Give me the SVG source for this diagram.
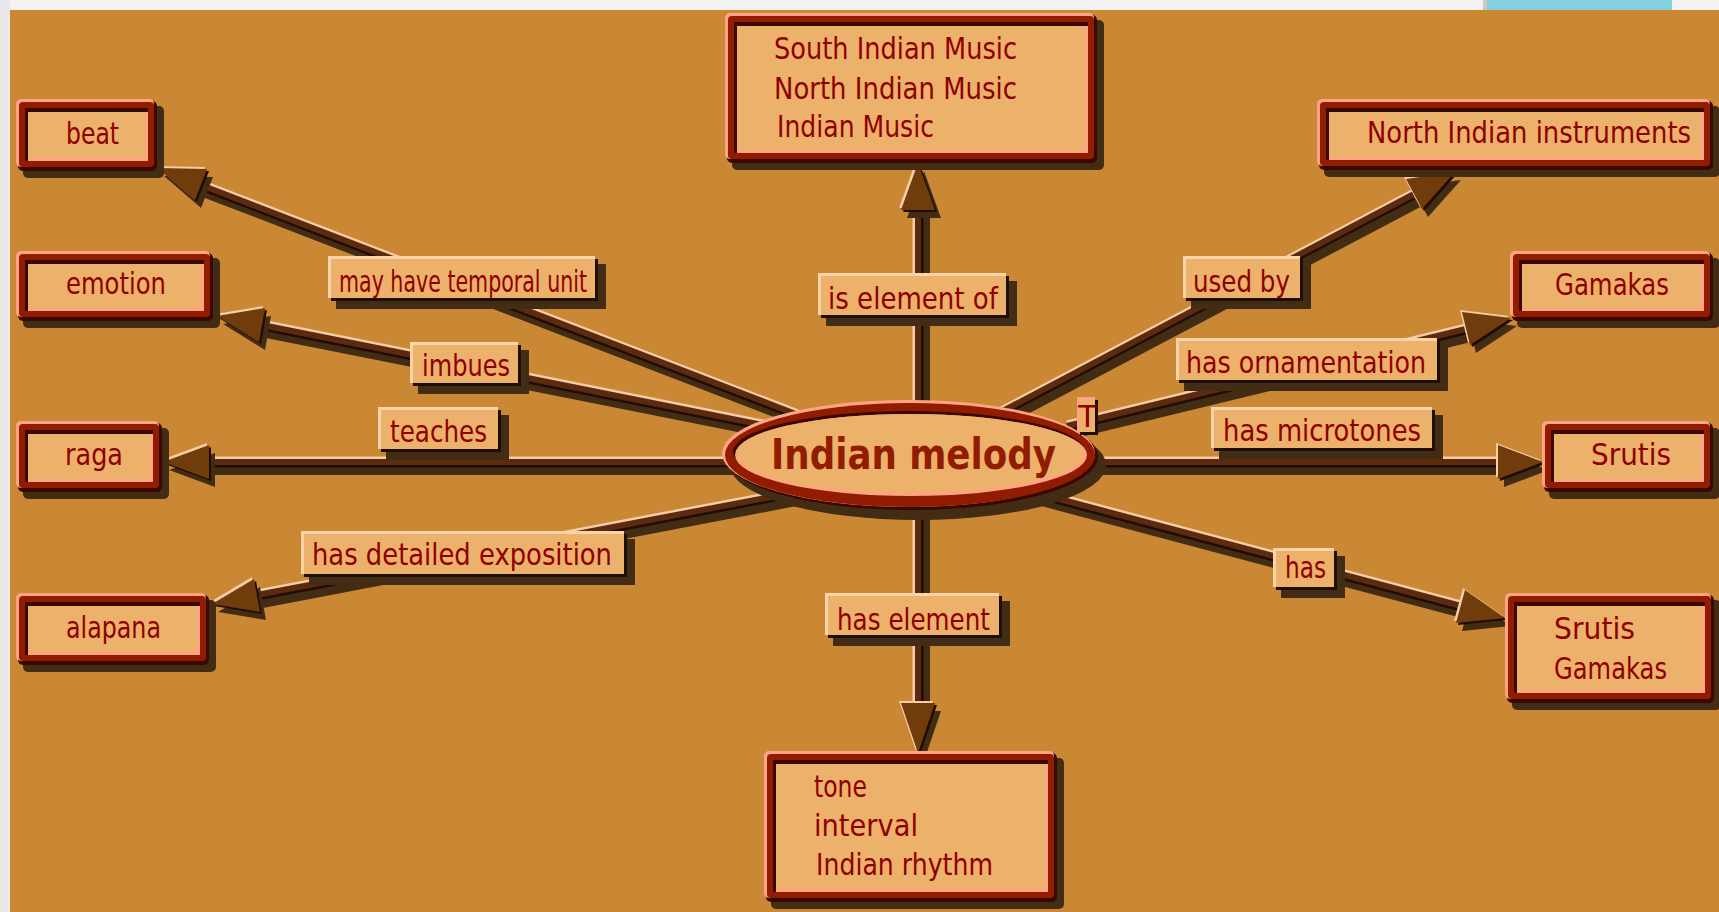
<svg xmlns="http://www.w3.org/2000/svg" xmlns:xlink="http://www.w3.org/1999/xlink" width="1719" height="912" viewBox="0 0 1719 912">
  <style>
    .txt { font-family: "DejaVu Sans", "Liberation Sans", sans-serif; font-size: 30px; fill: #8f0000; }
    .main { font-family: "DejaVu Sans", "Liberation Sans", sans-serif; font-size: 42px; font-weight: bold; fill: #911c00; }
    .sh { fill: #432c14; }
    .dk { fill: #3a0800; }
    .pk { fill: #ffa385; }
    .rd { fill: #911c00; }
    .fl { fill: #ecb16a; }
    .ldk { fill: #1e0e04; }
    .llt { fill: #fad3a8; }
    .ln-sh { fill: none; stroke: #432c14; stroke-width: 10; }
    .ln-hi { fill: none; stroke: #f6cda6; stroke-width: 5; }
    .ln-dk { fill: none; stroke: #200c04; stroke-width: 5; }
    .ln { fill: none; stroke: #5c2a0f; stroke-width: 6; }
    .ah { fill: #713c0b; }
    .ah-sh { fill: #432c14; }
    .ah-lt { fill: #f6cda6; }
    .ah-dk { fill: #200c04; }
  </style>
  <defs>
    <!-- connector paths: from the central ellipse to the arrow base -->
    <path id="p-beat" d="M819 423 L201 185"/>
    <path id="p-emotion" d="M778 428 L262 325"/>
    <path id="p-raga" d="M750 462 L208 462"/>
    <path id="p-alapana" d="M807 490 L257 595"/>
    <path id="p-music" d="M918 430 L918 210"/>
    <path id="p-instr" d="M982 422 L1414 194"/>
    <path id="p-gamakas" d="M1067 426 L1466 329"/>
    <path id="p-srutis" d="M1070 462 L1498 462"/>
    <path id="p-sg" d="M1018 488 L1461 606"/>
    <path id="p-tone" d="M918 480 L918 703"/>
    <!-- arrowheads -->
    <polygon id="a-beat" points="158,168 207,169 195,200"/>
    <polygon id="a-emotion" points="217,316 265,308 259,342"/>
    <polygon id="a-raga" points="163,462 209,445 209,479"/>
    <polygon id="a-alapana" points="212,604 254,579 260,612"/>
    <polygon id="a-music" points="918,163 901,210 935,210"/>
    <polygon id="a-instr" points="1455,172 1406,179 1422,209"/>
    <polygon id="a-gamakas" points="1511,318 1462,312 1470,345"/>
    <polygon id="a-srutis" points="1543,462 1498,445 1498,479"/>
    <polygon id="a-sg" points="1505,618 1465,590 1456,623"/>
    <polygon id="a-tone" points="918,753 901,703 935,703"/>
  </defs>

  <!-- window backdrop -->
  <rect x="0" y="0" width="1719" height="912" fill="#e9e9e9"/>
  <rect x="10" y="0" width="1709" height="10" fill="#f2f2f2"/>
  <rect x="1483" y="0" width="4" height="10" fill="#c8c8c8"/>
  <rect x="1487" y="0" width="185" height="10" fill="#84d0de"/>
  <rect x="10" y="10" width="1709" height="902" fill="#cb8834"/>

  <!-- connectors -->
  <g id="connectors">
    <g id="line-shadows">
      <use href="#p-beat" class="ln-sh" transform="translate(5,8)"/>
      <use href="#p-emotion" class="ln-sh" transform="translate(5,8)"/>
      <use href="#p-raga" class="ln-sh" transform="translate(5,8)"/>
      <use href="#p-alapana" class="ln-sh" transform="translate(5,8)"/>
      <use href="#p-music" class="ln-sh" transform="translate(7,4)"/>
      <use href="#p-instr" class="ln-sh" transform="translate(5,8)"/>
      <use href="#p-gamakas" class="ln-sh" transform="translate(5,8)"/>
      <use href="#p-srutis" class="ln-sh" transform="translate(5,8)"/>
      <use href="#p-sg" class="ln-sh" transform="translate(5,8)"/>
      <use href="#p-tone" class="ln-sh" transform="translate(7,4)"/>
    </g>
    <g id="line-edges">
      <use href="#p-beat" class="ln-hi" transform="translate(0,-3)"/>
      <use href="#p-emotion" class="ln-hi" transform="translate(0,-3)"/>
      <use href="#p-raga" class="ln-hi" transform="translate(0,-3)"/>
      <use href="#p-alapana" class="ln-hi" transform="translate(0,-3)"/>
      <use href="#p-music" class="ln-hi" transform="translate(-3,0)"/>
      <use href="#p-instr" class="ln-hi" transform="translate(0,-3)"/>
      <use href="#p-gamakas" class="ln-hi" transform="translate(0,-3)"/>
      <use href="#p-srutis" class="ln-hi" transform="translate(0,-3)"/>
      <use href="#p-sg" class="ln-hi" transform="translate(0,-3)"/>
      <use href="#p-tone" class="ln-hi" transform="translate(-3,0)"/>
      <use href="#p-beat" class="ln-dk" transform="translate(0,3)"/>
      <use href="#p-emotion" class="ln-dk" transform="translate(0,3)"/>
      <use href="#p-raga" class="ln-dk" transform="translate(0,3)"/>
      <use href="#p-alapana" class="ln-dk" transform="translate(0,3)"/>
      <use href="#p-music" class="ln-dk" transform="translate(3,0)"/>
      <use href="#p-instr" class="ln-dk" transform="translate(0,3)"/>
      <use href="#p-gamakas" class="ln-dk" transform="translate(0,3)"/>
      <use href="#p-srutis" class="ln-dk" transform="translate(0,3)"/>
      <use href="#p-sg" class="ln-dk" transform="translate(0,3)"/>
      <use href="#p-tone" class="ln-dk" transform="translate(3,0)"/>
    </g>
    <g id="line-bodies">
      <use href="#p-beat" class="ln"/>
      <use href="#p-emotion" class="ln"/>
      <use href="#p-raga" class="ln"/>
      <use href="#p-alapana" class="ln"/>
      <use href="#p-music" class="ln"/>
      <use href="#p-instr" class="ln"/>
      <use href="#p-gamakas" class="ln"/>
      <use href="#p-srutis" class="ln"/>
      <use href="#p-sg" class="ln"/>
      <use href="#p-tone" class="ln"/>
    </g>
    <g id="arrowheads">
      <use href="#a-beat" class="ah-sh" transform="translate(6,8)"/>
      <use href="#a-emotion" class="ah-sh" transform="translate(6,8)"/>
      <use href="#a-raga" class="ah-sh" transform="translate(6,8)"/>
      <use href="#a-alapana" class="ah-sh" transform="translate(6,8)"/>
      <use href="#a-music" class="ah-sh" transform="translate(6,8)"/>
      <use href="#a-instr" class="ah-sh" transform="translate(6,8)"/>
      <use href="#a-gamakas" class="ah-sh" transform="translate(6,8)"/>
      <use href="#a-srutis" class="ah-sh" transform="translate(6,8)"/>
      <use href="#a-sg" class="ah-sh" transform="translate(6,8)"/>
      <use href="#a-tone" class="ah-sh" transform="translate(6,8)"/>
      <use href="#a-beat" class="ah-dk" transform="translate(2,2)"/>
      <use href="#a-emotion" class="ah-dk" transform="translate(2,2)"/>
      <use href="#a-raga" class="ah-dk" transform="translate(2,2)"/>
      <use href="#a-alapana" class="ah-dk" transform="translate(2,2)"/>
      <use href="#a-music" class="ah-dk" transform="translate(2,2)"/>
      <use href="#a-instr" class="ah-dk" transform="translate(2,2)"/>
      <use href="#a-gamakas" class="ah-dk" transform="translate(2,2)"/>
      <use href="#a-srutis" class="ah-dk" transform="translate(2,2)"/>
      <use href="#a-sg" class="ah-dk" transform="translate(2,2)"/>
      <use href="#a-tone" class="ah-dk" transform="translate(2,2)"/>
      <use href="#a-beat" class="ah-lt" transform="translate(-2,-2)"/>
      <use href="#a-emotion" class="ah-lt" transform="translate(-2,-2)"/>
      <use href="#a-raga" class="ah-lt" transform="translate(-2,-2)"/>
      <use href="#a-alapana" class="ah-lt" transform="translate(-2,-2)"/>
      <use href="#a-music" class="ah-lt" transform="translate(-2,-2)"/>
      <use href="#a-instr" class="ah-lt" transform="translate(-2,-2)"/>
      <use href="#a-gamakas" class="ah-lt" transform="translate(-2,-2)"/>
      <use href="#a-srutis" class="ah-lt" transform="translate(-2,-2)"/>
      <use href="#a-sg" class="ah-lt" transform="translate(-2,-2)"/>
      <use href="#a-tone" class="ah-lt" transform="translate(-2,-2)"/>
      <use href="#a-beat" class="ah"/>
      <use href="#a-emotion" class="ah"/>
      <use href="#a-raga" class="ah"/>
      <use href="#a-alapana" class="ah"/>
      <use href="#a-music" class="ah"/>
      <use href="#a-instr" class="ah"/>
      <use href="#a-gamakas" class="ah"/>
      <use href="#a-srutis" class="ah"/>
      <use href="#a-sg" class="ah"/>
      <use href="#a-tone" class="ah"/>
    </g>

    <!-- link labels -->
    <g id="label-temporal">
      <rect class="sh" x="336" y="264" width="270" height="45"/>
      <rect class="ldk" x="331" y="259" width="267" height="42"/>
      <rect class="llt" x="328" y="256" width="267" height="42"/>
      <rect class="fl" x="331" y="259" width="264" height="39"/>
      <text class="txt" transform="translate(339 292) scale(0.8 1)" textLength="310" lengthAdjust="spacingAndGlyphs">may have temporal unit</text>
    </g>
    <g id="label-element-of">
      <rect class="sh" x="826" y="281" width="191" height="45"/>
      <rect class="ldk" x="821" y="276" width="188" height="42"/>
      <rect class="llt" x="818" y="273" width="188" height="42"/>
      <rect class="fl" x="821" y="276" width="185" height="39"/>
      <text class="txt" transform="translate(828 309) scale(0.8 1)" textLength="212.5" lengthAdjust="spacingAndGlyphs">is element of</text>
    </g>
    <g id="label-used-by">
      <rect class="sh" x="1191" y="264" width="120" height="45"/>
      <rect class="ldk" x="1186" y="259" width="117" height="42"/>
      <rect class="llt" x="1183" y="256" width="117" height="42"/>
      <rect class="fl" x="1186" y="259" width="114" height="39"/>
      <text class="txt" transform="translate(1193 292) scale(0.8 1)" textLength="121.25" lengthAdjust="spacingAndGlyphs">used by</text>
    </g>
    <g id="label-imbues">
      <rect class="sh" x="418" y="350" width="111" height="44"/>
      <rect class="ldk" x="413" y="345" width="108" height="41"/>
      <rect class="llt" x="410" y="342" width="108" height="41"/>
      <rect class="fl" x="413" y="345" width="105" height="38"/>
      <text class="txt" transform="translate(422 376) scale(0.8 1)" textLength="110" lengthAdjust="spacingAndGlyphs">imbues</text>
    </g>
    <g id="label-teaches">
      <rect class="sh" x="386" y="415" width="123" height="45"/>
      <rect class="ldk" x="381" y="410" width="120" height="42"/>
      <rect class="llt" x="378" y="407" width="120" height="42"/>
      <rect class="fl" x="381" y="410" width="117" height="39"/>
      <text class="txt" transform="translate(390 442) scale(0.8 1)" textLength="121.25" lengthAdjust="spacingAndGlyphs">teaches</text>
    </g>
    <g id="label-ornamentation">
      <rect class="sh" x="1184" y="346" width="264" height="45"/>
      <rect class="ldk" x="1179" y="341" width="261" height="42"/>
      <rect class="llt" x="1176" y="338" width="261" height="42"/>
      <rect class="fl" x="1179" y="341" width="258" height="39"/>
      <text class="txt" transform="translate(1186 373) scale(0.8 1)" textLength="300" lengthAdjust="spacingAndGlyphs">has ornamentation</text>
    </g>
    <g id="label-microtones">
      <rect class="sh" x="1219" y="415" width="224" height="44"/>
      <rect class="ldk" x="1214" y="410" width="221" height="41"/>
      <rect class="llt" x="1211" y="407" width="221" height="41"/>
      <rect class="fl" x="1214" y="410" width="218" height="38"/>
      <text class="txt" transform="translate(1223 441) scale(0.8 1)" textLength="247.5" lengthAdjust="spacingAndGlyphs">has microtones</text>
    </g>
    <g id="label-exposition">
      <rect class="sh" x="309" y="539" width="326" height="46"/>
      <rect class="ldk" x="304" y="534" width="323" height="43"/>
      <rect class="llt" x="301" y="531" width="323" height="43"/>
      <rect class="fl" x="304" y="534" width="320" height="40"/>
      <text class="txt" transform="translate(312 565) scale(0.8 1)" textLength="375" lengthAdjust="spacingAndGlyphs">has detailed exposition</text>
    </g>
    <g id="label-has">
      <rect class="sh" x="1281" y="556" width="64" height="42"/>
      <rect class="ldk" x="1276" y="551" width="61" height="39"/>
      <rect class="llt" x="1273" y="548" width="61" height="39"/>
      <rect class="fl" x="1276" y="551" width="58" height="36"/>
      <text class="txt" transform="translate(1285 578) scale(0.8 1)" textLength="51.25" lengthAdjust="spacingAndGlyphs">has</text>
    </g>
    <g id="label-has-element">
      <rect class="sh" x="833" y="601" width="177" height="45"/>
      <rect class="ldk" x="828" y="596" width="174" height="42"/>
      <rect class="llt" x="825" y="593" width="174" height="42"/>
      <rect class="fl" x="828" y="596" width="171" height="39"/>
      <text class="txt" transform="translate(837 630) scale(0.8 1)" textLength="191.25" lengthAdjust="spacingAndGlyphs">has element</text>
    </g>
  </g>

  <!-- central concept -->
  <g id="node-indian-melody">
    <ellipse class="sh" cx="918" cy="465" rx="188" ry="55"/>
    <ellipse class="dk" cx="911.5" cy="456.5" rx="186.5" ry="53.5"/>
    <ellipse class="pk" cx="908.5" cy="453.5" rx="186.5" ry="53.5"/>
    <ellipse class="rd" cx="910" cy="455" rx="185" ry="52"/>
    <ellipse class="dk" cx="909" cy="452" rx="176" ry="41"/>
    <ellipse class="pk" cx="911" cy="455" rx="176" ry="41"/>
    <ellipse class="fl" cx="910" cy="453.5" rx="174" ry="39.5"/>
    <text class="main" transform="translate(771 469) scale(0.85 1)" textLength="335.3" lengthAdjust="spacingAndGlyphs">Indian melody</text>
    <rect class="ldk" x="1080" y="400" width="18" height="35"/>
    <rect class="pk" x="1077" y="397" width="18" height="35"/>
    <rect class="fl" x="1080" y="400" width="15" height="32"/>
    <text class="txt" x="1087.5" y="427" font-size="26" text-anchor="middle">T</text>
  </g>

  <g id="node-music">
    <rect class="sh" x="732" y="20" width="372" height="150" rx="5"/>
    <rect class="dk" x="727" y="15" width="370" height="148" rx="5"/>
    <rect class="pk" x="725" y="13" width="369" height="146" rx="5"/>
    <rect class="rd" x="728" y="16" width="366" height="143" rx="4"/>
    <rect class="dk" x="734" y="22" width="354" height="131"/>
    <rect class="pk" x="737" y="26" width="351" height="127"/>
    <rect class="fl" x="737" y="26" width="348" height="124"/>
    <text class="txt" transform="translate(774 59) scale(0.8 1)" textLength="303.75" lengthAdjust="spacingAndGlyphs">South Indian Music</text>
    <text class="txt" transform="translate(774 99) scale(0.8 1)" textLength="303.75" lengthAdjust="spacingAndGlyphs">North Indian Music</text>
    <text class="txt" transform="translate(777 137) scale(0.8 1)" textLength="196.25" lengthAdjust="spacingAndGlyphs">Indian Music</text>
  </g>

  <g id="node-instruments">
    <rect class="sh" x="1324" y="106" width="396" height="71" rx="5"/>
    <rect class="dk" x="1319" y="101" width="394" height="69" rx="5"/>
    <rect class="pk" x="1317" y="99" width="393" height="67" rx="5"/>
    <rect class="rd" x="1320" y="102" width="390" height="64" rx="4"/>
    <rect class="dk" x="1326" y="108" width="378" height="52"/>
    <rect class="pk" x="1329" y="112" width="375" height="48"/>
    <rect class="fl" x="1329" y="112" width="372" height="45"/>
    <text class="txt" transform="translate(1367 143) scale(0.8 1)" textLength="405" lengthAdjust="spacingAndGlyphs">North Indian instruments</text>
  </g>

  <g id="node-beat">
    <rect class="sh" x="23" y="106" width="141" height="72" rx="5"/>
    <rect class="dk" x="18" y="101" width="139" height="70" rx="5"/>
    <rect class="pk" x="16" y="99" width="138" height="68" rx="5"/>
    <rect class="rd" x="19" y="102" width="135" height="65" rx="4"/>
    <rect class="dk" x="25" y="108" width="123" height="53"/>
    <rect class="pk" x="28" y="112" width="120" height="49"/>
    <rect class="fl" x="28" y="112" width="117" height="46"/>
    <text class="txt" transform="translate(66 144) scale(0.8 1)" textLength="66.25" lengthAdjust="spacingAndGlyphs">beat</text>
  </g>

  <g id="node-emotion">
    <rect class="sh" x="23" y="258" width="197" height="70" rx="5"/>
    <rect class="dk" x="18" y="253" width="195" height="68" rx="5"/>
    <rect class="pk" x="16" y="251" width="194" height="66" rx="5"/>
    <rect class="rd" x="19" y="254" width="191" height="63" rx="4"/>
    <rect class="dk" x="25" y="260" width="179" height="51"/>
    <rect class="pk" x="28" y="264" width="176" height="47"/>
    <rect class="fl" x="28" y="264" width="173" height="44"/>
    <text class="txt" transform="translate(66 294) scale(0.8 1)" textLength="125" lengthAdjust="spacingAndGlyphs">emotion</text>
  </g>

  <g id="node-raga">
    <rect class="sh" x="23" y="428" width="146" height="71" rx="5"/>
    <rect class="dk" x="18" y="423" width="144" height="69" rx="5"/>
    <rect class="pk" x="16" y="421" width="143" height="67" rx="5"/>
    <rect class="rd" x="19" y="424" width="140" height="64" rx="4"/>
    <rect class="dk" x="25" y="430" width="128" height="52"/>
    <rect class="pk" x="28" y="434" width="125" height="48"/>
    <rect class="fl" x="28" y="434" width="122" height="45"/>
    <text class="txt" transform="translate(65 465) scale(0.8 1)" textLength="72.5" lengthAdjust="spacingAndGlyphs">raga</text>
  </g>

  <g id="node-alapana">
    <rect class="sh" x="23" y="600" width="193" height="72" rx="5"/>
    <rect class="dk" x="18" y="595" width="191" height="70" rx="5"/>
    <rect class="pk" x="16" y="593" width="190" height="68" rx="5"/>
    <rect class="rd" x="19" y="596" width="187" height="65" rx="4"/>
    <rect class="dk" x="25" y="602" width="175" height="53"/>
    <rect class="pk" x="28" y="606" width="172" height="49"/>
    <rect class="fl" x="28" y="606" width="169" height="46"/>
    <text class="txt" transform="translate(66 638) scale(0.8 1)" textLength="118.75" lengthAdjust="spacingAndGlyphs">alapana</text>
  </g>

  <g id="node-gamakas">
    <rect class="sh" x="1517" y="258" width="203" height="70" rx="5"/>
    <rect class="dk" x="1512" y="253" width="201" height="68" rx="5"/>
    <rect class="pk" x="1510" y="251" width="200" height="66" rx="5"/>
    <rect class="rd" x="1513" y="254" width="197" height="63" rx="4"/>
    <rect class="dk" x="1519" y="260" width="185" height="51"/>
    <rect class="pk" x="1522" y="264" width="182" height="47"/>
    <rect class="fl" x="1522" y="264" width="179" height="44"/>
    <text class="txt" transform="translate(1555 295) scale(0.8 1)" textLength="142.5" lengthAdjust="spacingAndGlyphs">Gamakas</text>
  </g>

  <g id="node-srutis">
    <rect class="sh" x="1549" y="428" width="171" height="71" rx="5"/>
    <rect class="dk" x="1544" y="423" width="169" height="69" rx="5"/>
    <rect class="pk" x="1542" y="421" width="168" height="67" rx="5"/>
    <rect class="rd" x="1545" y="424" width="165" height="64" rx="4"/>
    <rect class="dk" x="1551" y="430" width="153" height="52"/>
    <rect class="pk" x="1554" y="434" width="150" height="48"/>
    <rect class="fl" x="1554" y="434" width="147" height="45"/>
    <text class="txt" transform="translate(1591 465) scale(0.8 1)" textLength="100" lengthAdjust="spacingAndGlyphs">Srutis</text>
  </g>

  <g id="node-srutis-gamakas">
    <rect class="sh" x="1512" y="600" width="209" height="110" rx="5"/>
    <rect class="dk" x="1507" y="595" width="207" height="108" rx="5"/>
    <rect class="pk" x="1505" y="593" width="206" height="106" rx="5"/>
    <rect class="rd" x="1508" y="596" width="203" height="103" rx="4"/>
    <rect class="dk" x="1514" y="602" width="191" height="91"/>
    <rect class="pk" x="1517" y="606" width="188" height="87"/>
    <rect class="fl" x="1517" y="606" width="185" height="84"/>
    <text class="txt" transform="translate(1554 639) scale(0.8 1)" textLength="101.25" lengthAdjust="spacingAndGlyphs">Srutis</text>
    <text class="txt" transform="translate(1554 679) scale(0.8 1)" textLength="141.25" lengthAdjust="spacingAndGlyphs">Gamakas</text>
  </g>

  <g id="node-tone">
    <rect class="sh" x="771" y="758" width="293" height="151" rx="5"/>
    <rect class="dk" x="766" y="753" width="291" height="149" rx="5"/>
    <rect class="pk" x="764" y="751" width="290" height="147" rx="5"/>
    <rect class="rd" x="767" y="754" width="287" height="144" rx="4"/>
    <rect class="dk" x="773" y="760" width="275" height="132"/>
    <rect class="pk" x="776" y="764" width="272" height="128"/>
    <rect class="fl" x="776" y="764" width="269" height="125"/>
    <text class="txt" transform="translate(814 797) scale(0.8 1)" textLength="66.25" lengthAdjust="spacingAndGlyphs">tone</text>
    <text class="txt" transform="translate(814 836) scale(0.8 1)" textLength="130" lengthAdjust="spacingAndGlyphs">interval</text>
    <text class="txt" transform="translate(816 875) scale(0.8 1)" textLength="221.25" lengthAdjust="spacingAndGlyphs">Indian rhythm</text>
  </g>
</svg>
